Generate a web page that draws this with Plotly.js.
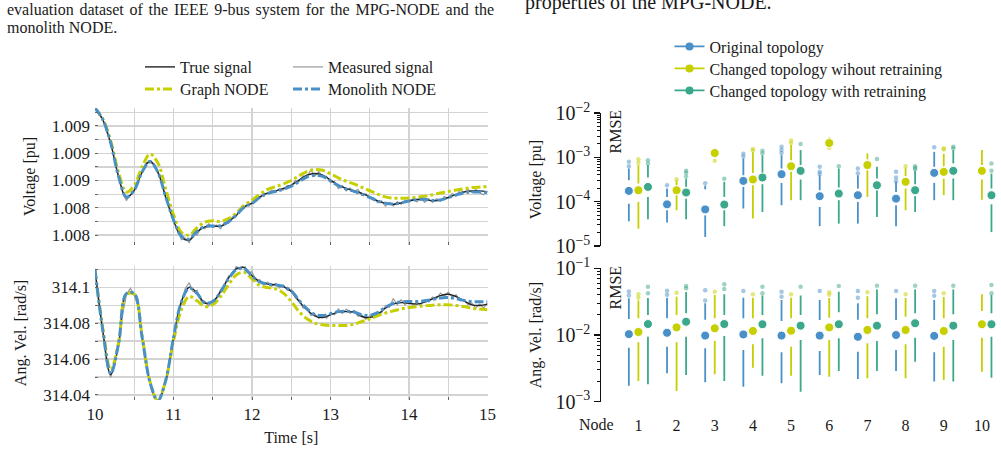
<!DOCTYPE html>
<html>
<head>
<meta charset="utf-8">
<script src="https://cdn.plot.ly/plotly-3.0.1.min.js"></script>
<style>
  html, body { margin: 0; padding: 0; background: #fff; }
  #wrap { position: relative; width: 1001px; height: 452px; overflow: hidden; }
  #chart { position: absolute; left: 0; top: 0; width: 1001px; height: 452px; }
  .cap { position: absolute; font-family: "Liberation Serif", serif; color: #1a1a1a; white-space: nowrap; }
  #capL1 { left: 7px; top: 1px; width: 487px; font-size: 16px; line-height: 18px; white-space: normal; text-align: justify; text-align-last: justify; }
  #capL2 { left: 7px; top: 19px; font-size: 16px; line-height: 18px; }
  #capR { left: 525px; top: -8px; font-size: 20px; line-height: 20px; }
</style>
</head>
<body>
<div id="wrap">
  <div id="chart"></div>
  <div class="cap" id="capL1">evaluation dataset of the IEEE 9-bus system for the MPG-NODE and the</div>
  <div class="cap" id="capL2">monolith NODE.</div>
  <div class="cap" id="capR">properties of the MPG-NODE.</div>
</div>
<script>
// ---------- Time series (left): samples start at t = 10 s ----------
// smooth signals sampled every 0.1 s, measured signal every 0.05 s
const voltTrue = [
  1.009132, 1.009044, 1.008873, 1.008627, 1.008473, 1.008529, 1.008664, 1.008743, 1.008664, 1.008480,
  1.008309, 1.008186, 1.008162, 1.008223, 1.008260, 1.008265, 1.008265, 1.008296, 1.008346, 1.008407,
  1.008434, 1.008480, 1.008510, 1.008524, 1.008542, 1.008566, 1.008603, 1.008640, 1.008652, 1.008640,
  1.008603, 1.008566, 1.008542, 1.008524, 1.008505, 1.008480, 1.008451, 1.008432, 1.008426, 1.008436,
  1.008451, 1.008461, 1.008461, 1.008451, 1.008456, 1.008476, 1.008498, 1.008517, 1.008524, 1.008524,
  1.008517];
const voltGraph = [
  1.009132, 1.009050, 1.008890, 1.008660, 1.008515, 1.008565, 1.008700, 1.008795, 1.008730, 1.008540,
  1.008350, 1.008220, 1.008200, 1.008255, 1.008295, 1.008305, 1.008300, 1.008320, 1.008360, 1.008420,
  1.008455, 1.008500, 1.008535, 1.008555, 1.008575, 1.008600, 1.008635, 1.008665, 1.008680, 1.008675,
  1.008650, 1.008620, 1.008595, 1.008575, 1.008550, 1.008525, 1.008500, 1.008480, 1.008470, 1.008470,
  1.008472, 1.008478, 1.008485, 1.008495, 1.008508, 1.008520, 1.008530, 1.008540, 1.008548, 1.008552,
  1.008555];
const voltMono = [
  1.009132, 1.009046, 1.008876, 1.008630, 1.008478, 1.008530, 1.008662, 1.008740, 1.008662, 1.008482,
  1.008312, 1.008192, 1.008170, 1.008228, 1.008262, 1.008266, 1.008268, 1.008298, 1.008346, 1.008405,
  1.008432, 1.008476, 1.008505, 1.008520, 1.008536, 1.008558, 1.008592, 1.008626, 1.008638, 1.008630,
  1.008598, 1.008562, 1.008538, 1.008520, 1.008500, 1.008476, 1.008450, 1.008434, 1.008428, 1.008436,
  1.008450, 1.008460, 1.008462, 1.008454, 1.008458, 1.008474, 1.008494, 1.008510, 1.008516, 1.008516,
  1.008512];
const voltMeas = [
  1.009130, 1.009087, 1.009054, 1.008953, 1.008879, 1.008740, 1.008639, 1.008515, 1.008453, 1.008498,
  1.008519, 1.008612, 1.008656, 1.008730, 1.008729, 1.008721, 1.008648, 1.008587, 1.008470, 1.008398,
  1.008297, 1.008250, 1.008166, 1.008179, 1.008144, 1.008215, 1.008198, 1.008255, 1.008246, 1.008283,
  1.008253, 1.008273, 1.008245, 1.008292, 1.008286, 1.008334, 1.008338, 1.008388, 1.008395, 1.008430,
  1.008428, 1.008468, 1.008468, 1.008505, 1.008502, 1.008529, 1.008514, 1.008541, 1.008530, 1.008564,
  1.008558, 1.008599, 1.008593, 1.008634, 1.008626, 1.008678, 1.008632, 1.008666, 1.008628, 1.008630,
  1.008583, 1.008595, 1.008541, 1.008562, 1.008524, 1.008545, 1.008516, 1.008535, 1.008490, 1.008503,
  1.008468, 1.008473, 1.008437, 1.008450, 1.008412, 1.008436, 1.008414, 1.008444, 1.008426, 1.008456,
  1.008443, 1.008466, 1.008443, 1.008473, 1.008439, 1.008466, 1.008439, 1.008466, 1.008446, 1.008482,
  1.008468, 1.008505, 1.008488, 1.008530, 1.008509, 1.008535, 1.008512, 1.008534, 1.008510, 1.008496,
  1.008523];

const avTrue = [
  314.1096, 314.0753, 314.0513, 314.0679, 314.0965, 314.0965, 314.0720, 314.0470, 314.0364, 314.0476,
  314.0717, 314.0920, 314.1000, 314.0967, 314.0911, 314.0920, 314.0976, 314.1050, 314.1102, 314.1109,
  314.1064, 314.1031, 314.1017, 314.1013, 314.1003, 314.0976, 314.0920, 314.0874, 314.0841, 314.0831,
  314.0846, 314.0861, 314.0864, 314.0861, 314.0837, 314.0831, 314.0850, 314.0883, 314.0907, 314.0914,
  314.0911, 314.0906, 314.0917, 314.0935, 314.0953, 314.0961, 314.0948, 314.0924, 314.0902, 314.0898,
  314.0906];
const avGraph = [
  314.1096, 314.0770, 314.0540, 314.0690, 314.0958, 314.0960, 314.0730, 314.0475, 314.0370, 314.0480,
  314.0700, 314.0874, 314.0948, 314.0924, 314.0892, 314.0902, 314.0948, 314.1013, 314.1068, 314.1083,
  314.1046, 314.1009, 314.0998, 314.0991, 314.0967, 314.0920, 314.0864, 314.0824, 314.0800, 314.0791,
  314.0787, 314.0787, 314.0787, 314.0794, 314.0809, 314.0824, 314.0841, 314.0856, 314.0868, 314.0879,
  314.0887, 314.0892, 314.0896, 314.0900, 314.0902, 314.0902, 314.0898, 314.0892, 314.0883, 314.0878,
  314.0874];
const avMono = [
  314.1096, 314.0758, 314.0518, 314.0685, 314.0964, 314.0964, 314.0722, 314.0472, 314.0368, 314.0480,
  314.0720, 314.0918, 314.0995, 314.0965, 314.0912, 314.0920, 314.0975, 314.1046, 314.1098, 314.1104,
  314.1062, 314.1030, 314.1017, 314.1013, 314.1004, 314.0980, 314.0926, 314.0880, 314.0848, 314.0842,
  314.0852, 314.0864, 314.0866, 314.0862, 314.0846, 314.0843, 314.0858, 314.0888, 314.0910, 314.0918,
  314.0920, 314.0920, 314.0924, 314.0932, 314.0940, 314.0942, 314.0936, 314.0926, 314.0920, 314.0919,
  314.0920];
const avMeas = [
  314.1102, 314.0940, 314.0761, 314.0568, 314.0498, 314.0580, 314.0671, 314.0842, 314.0958, 314.0993,
  314.0958, 314.0890, 314.0712, 314.0600, 314.0460, 314.0388, 314.0358, 314.0410, 314.0466, 314.0602,
  314.0709, 314.0844, 314.0908, 314.0993, 314.1025, 314.0975, 314.0983, 314.0923, 314.0921, 314.0895,
  314.0928, 314.0935, 314.0986, 314.1007, 314.1062, 314.1070, 314.1116, 314.1098, 314.1125, 314.1080,
  314.1086, 314.1033, 314.1041, 314.1014, 314.1029, 314.1005, 314.1021, 314.0996, 314.1013, 314.0982,
  314.0988, 314.0942, 314.0930, 314.0885, 314.0882, 314.0843, 314.0851, 314.0826, 314.0843, 314.0828,
  314.0856, 314.0847, 314.0879, 314.0853, 314.0878, 314.0854, 314.0871, 314.0838, 314.0845, 314.0822,
  314.0841, 314.0830, 314.0862, 314.0856, 314.0897, 314.0888, 314.0937, 314.0902, 314.0930, 314.0903,
  314.0923, 314.0900, 314.0916, 314.0900, 314.0929, 314.0918, 314.0945, 314.0934, 314.0967, 314.0950,
  314.0973, 314.0946, 314.0958, 314.0925, 314.0932, 314.0902, 314.0912, 314.0885, 314.0906, 314.0885,
  314.0912];

// ---------- RMSE per node (right): [min, q1, median, q3, max] ----------
const nodes = [1, 2, 3, 4, 5, 6, 7, 8, 9, 10];

const vOrig = [
  [3.6e-5, 9.0e-5, 1.75e-4, 3.05e-4, 5.6e-4],
  [3.4e-5, 6.4e-5, 8.7e-5, 1.28e-4, 1.98e-4],
  [1.6e-5, 4.9e-5, 6.7e-5, 1.9e-4, 2.3e-4],
  [7.0e-5, 2.15e-4, 2.94e-4, 3.95e-4, 9.5e-4],
  [8.3e-5, 2.65e-4, 4.17e-4, 5.6e-4, 1.12e-3],
  [2.8e-5, 7.6e-5, 1.33e-4, 1.81e-4, 3.95e-4],
  [3.2e-5, 9.9e-5, 1.40e-4, 1.98e-4, 3.95e-4],
  [2.8e-5, 8.3e-5, 1.17e-4, 1.66e-4, 2.8e-4],
  [1.08e-4, 2.65e-4, 4.46e-4, 6.1e-4, 1.33e-3],
  [null, null, null, null, null]];
const vOrigOut = [[6.3e-4, 7.9e-4], [2.35e-4], [2.6e-4], [1.05e-3, 1.2e-3], [1.26e-3, 1.46e-3, 1.73e-3],
  [4.2e-4, 4.7e-4, 6.1e-4], [4.4e-4, 5.6e-4], [2.9e-4, 3.5e-4, 4.7e-4], [1.68e-3], []];

const vChg = [
  [2.46e-5, 9.9e-5, 1.81e-4, 2.57e-4, 6.7e-4],
  [6.4e-5, 1.40e-4, 1.81e-4, 2.35e-4, 3.05e-4],
  [1.05e-3, 1.15e-3, 1.25e-3, 1.35e-3, 1.45e-3],
  [4.15e-5, 2.35e-4, 3.16e-4, 4.46e-4, 1.3e-3],
  [1.08e-4, 4.7e-4, 6.3e-4, 8.6e-4, 1.9e-3],
  [1.8e-3, 1.9e-3, 2.1e-3, 2.3e-3, 2.8e-3],
  [1.28e-4, 5.1e-4, 6.7e-4, 9.0e-4, 1.23e-3],
  [6.4e-5, 1.98e-4, 2.8e-4, 3.76e-4, 5.8e-4],
  [1.4e-4, 3.3e-4, 4.7e-4, 6.3e-4, 1.2e-3],
  [1.1e-4, 3.16e-4, 4.95e-4, 6.7e-4, 1.46e-3]];
const vChgOut = [[7.5e-4, 9.0e-4], [3.2e-4], [8.4e-4], [1.42e-3, 1.55e-3], [2.1e-3, 2.4e-3],
  [1.65e-3], [], [6.3e-4], [1.5e-3, 1.6e-3], []];

const vRet = [
  [4.0e-5, 1.28e-4, 2.15e-4, 3.5e-4, 6.7e-4],
  [4.0e-5, 1.17e-4, 1.61e-4, 2.15e-4, 3.3e-4],
  [2.8e-5, 6.4e-5, 8.6e-5, 1.28e-4, 2.8e-4],
  [5.85e-5, 2.48e-4, 3.5e-4, 4.3e-4, 1.12e-3],
  [1.08e-4, 3.16e-4, 4.95e-4, 6.7e-4, 1.46e-3],
  [3.2e-5, 1.08e-4, 1.52e-4, 2.09e-4, 5.6e-4],
  [4.5e-5, 1.81e-4, 2.35e-4, 3.33e-4, 6.1e-4],
  [5.85e-5, 1.33e-4, 1.81e-4, 2.48e-4, 5.0e-4],
  [1.08e-4, 3.33e-4, 4.95e-4, 7.3e-4, 1.46e-3],
  [2.06e-5, 8.7e-5, 1.40e-4, 1.98e-4, 4.3e-4]];
const vRetOut = [[7.3e-4, 8.6e-4], [3.7e-4, 4.5e-4, 5.0e-4], [3.3e-4], [1.23e-3, 1.4e-3], [2.0e-3],
  [6.3e-4], [9.2e-4], [5.4e-4, 5.8e-4, 6.3e-4], [1.6e-3, 1.73e-3], [5.0e-4, 7.3e-4]];

const aOrig = [
  [1.74e-3, 6.46e-3, 1.03e-2, 1.74e-2, 3.55e-2],
  [2.67e-3, 6.68e-3, 1.08e-2, 1.78e-2, 3.62e-2],
  [1.95e-3, 6.32e-3, 9.8e-3, 1.7e-2, 3.0e-2],
  [1.68e-3, 5.96e-3, 1.02e-2, 1.78e-2, 3.62e-2],
  [1.89e-3, 5.51e-3, 9.8e-3, 1.62e-2, 3.35e-2],
  [2.51e-3, 5.75e-3, 9.8e-3, 1.68e-2, 3.35e-2],
  [2.19e-3, 5.62e-3, 9.4e-3, 1.7e-2, 2.99e-2],
  [2.89e-3, 5.96e-3, 1.0e-2, 1.68e-2, 3.55e-2],
  [2.0e-3, 5.51e-3, 9.7e-3, 1.68e-2, 3.35e-2],
  [null, null, null, null, null]];
const aOrigOut = [[3.9e-2, 4.5e-2], [4.0e-2, 4.6e-2], [3.3e-2, 4.7e-2], [4.57e-2], [3.75e-2, 4.46e-2],
  [4.57e-2], [3.62e-2, 4.57e-2], [4.57e-2], [3.88e-2, 4.57e-2], []];

const aChg = [
  [2.04e-3, 7.78e-3, 1.11e-2, 1.78e-2, 3.3e-2],
  [1.45e-3, 7.78e-3, 1.30e-2, 1.99e-2, 3.75e-2],
  [2.58e-3, 8.13e-3, 1.26e-2, 1.78e-2, 3.98e-2],
  [3.24e-3, 7.26e-3, 1.15e-2, 1.78e-2, 3.62e-2],
  [2.45e-3, 6.68e-3, 1.16e-2, 1.78e-2, 3.62e-2],
  [2.37e-3, 8.41e-3, 1.30e-2, 1.82e-2, 3.6e-2],
  [2.24e-3, 7.51e-3, 1.19e-2, 1.78e-2, 3.8e-2],
  [2.24e-3, 7.26e-3, 1.19e-2, 1.88e-2, 3.6e-2],
  [2.11e-3, 6.68e-3, 1.15e-2, 1.78e-2, 3.7e-2],
  [2.82e-3, 9.12e-3, 1.45e-2, 2.29e-2, 4.07e-2]];
const aChgOut = [[3.62e-2, 4.07e-2], [4.3e-2], [4.46e-2], [4.07e-2], [4.07e-2],
  [4.0e-2, 4.36e-2], [4.36e-2], [4.07e-2], [4.22e-2], []];

const aRet = [
  [1.82e-3, 9.44e-3, 1.46e-2, 1.99e-2, 3.6e-2],
  [2.51e-3, 9.44e-3, 1.58e-2, 2.11e-2, 4.4e-2],
  [2.04e-3, 9.66e-3, 1.46e-2, 1.99e-2, 4.1e-2],
  [2.45e-3, 8.91e-3, 1.45e-2, 1.99e-2, 3.9e-2],
  [1.41e-3, 8.41e-3, 1.38e-2, 1.99e-2, 3.9e-2],
  [2.89e-3, 8.91e-3, 1.45e-2, 2.19e-2, 4.46e-2],
  [2.89e-3, 8.13e-3, 1.38e-2, 2.04e-2, 4.8e-2],
  [3.98e-3, 9.12e-3, 1.50e-2, 2.11e-2, 4.8e-2],
  [2.0e-3, 8.41e-3, 1.38e-2, 2.04e-2, 4.8e-2],
  [2.29e-3, 9.44e-3, 1.45e-2, 2.11e-2, 3.98e-2]];
const aRetOut = [[4.22e-2, 5.3e-2], [5.01e-2, 5.43e-2], [4.9e-2, 5.75e-2], [4.22e-2, 5.3e-2], [5.3e-2],
  [5.43e-2], [5.48e-2], [5.48e-2], [5.48e-2], [4.22e-2, 5.62e-2]];

// ---------- styling ----------
const SERIF = 'Liberation Serif, serif';
const INK = '#1a1a1a';
const C_BLUE = '#4a90c8';
const C_YEL = '#c6cf00';
const C_TEAL = '#3ba88c';
const GRID = '#d3d3d3';

const traces = [];

function tsTrace(y, dt, xa, ya, name, line, legend, show) {
  return {
    type: 'scatter', mode: 'lines', x0: 10, dx: dt, y: y,
    xaxis: xa, yaxis: ya, name: name, line: line,
    legend: legend, showlegend: show, hoverinfo: 'skip'
  };
}
const lnMeas = { color: '#999999', width: 1.2 };
const lnTrue = { color: '#222', width: 1.4, shape: 'spline' };
const lnGraph = { color: C_YEL, width: 3, dash: 'dashdot', shape: 'spline' };
const lnMono = { color: C_BLUE, width: 3, dash: 'dashdot', shape: 'spline' };

traces.push(tsTrace(voltMeas, 0.05, 'x', 'y', 'Measured signal', lnMeas, 'legend2', true));
traces.push(tsTrace(voltTrue, 0.1, 'x', 'y', 'True signal', lnTrue, 'legend', true));
traces.push(tsTrace(voltGraph, 0.1, 'x', 'y', 'Graph NODE', lnGraph, 'legend3', true));
traces.push(tsTrace(voltMono, 0.1, 'x', 'y', 'Monolith NODE', lnMono, 'legend4', true));
traces.push(tsTrace(avMeas, 0.05, 'x2', 'y2', 'Measured signal', lnMeas, 'legend2', false));
traces.push(tsTrace(avTrue, 0.1, 'x2', 'y2', 'True signal', lnTrue, 'legend', false));
traces.push(tsTrace(avGraph, 0.1, 'x2', 'y2', 'Graph NODE', lnGraph, 'legend3', false));
traces.push(tsTrace(avMono, 0.1, 'x2', 'y2', 'Monolith NODE', lnMono, 'legend4', false));

// midgap box plots: whisker from min to q1, dot at median, whisker from q3 to max
const series = [
  { name: 'Original topology', color: C_BLUE, off: -0.25, v: vOrig, vOut: vOrigOut, a: aOrig, aOut: aOrigOut, legend: 'legend5' },
  { name: 'Changed topology wihout retraining', color: C_YEL, off: 0, v: vChg, vOut: vChgOut, a: aChg, aOut: aChgOut, legend: 'legend6' },
  { name: 'Changed topology with retraining', color: C_TEAL, off: 0.25, v: vRet, vOut: vRetOut, a: aRet, aOut: aRetOut, legend: 'legend7' }
];

function addBoxes(s, stats, outs, xa, ya) {
  const wx = [], wy = [], mx = [], my = [], ox = [], oy = [];
  nodes.forEach((n, i) => {
    const st = stats[i];
    if (st[2] === null) return;
    const xp = n + s.off;
    wx.push(xp, xp, null, xp, xp, null);
    wy.push(st[0], st[1], null, st[3], st[4], null);
    mx.push(xp); my.push(st[2]);
    outs[i].forEach(v => { ox.push(xp); oy.push(v); });
  });
  traces.push({ type: 'scatter', mode: 'lines', x: wx, y: wy, xaxis: xa, yaxis: ya,
    line: { color: s.color, width: 1.8 }, connectgaps: false, showlegend: false, hoverinfo: 'skip' });
  traces.push({ type: 'scatter', mode: 'markers', x: ox, y: oy, xaxis: xa, yaxis: ya,
    marker: { color: s.color, size: 4.5, opacity: 0.5 }, showlegend: false, hoverinfo: 'skip' });
  traces.push({ type: 'scatter', mode: 'markers', x: mx, y: my, xaxis: xa, yaxis: ya,
    marker: { color: s.color, size: 9, line: { color: '#fff', width: 1 } }, showlegend: false, hoverinfo: 'skip' });
}
series.forEach(s => {
  addBoxes(s, s.v, s.vOut, 'x3', 'y3');
  addBoxes(s, s.a, s.aOut, 'x4', 'y4');
  traces.push({ type: 'scatter', mode: 'lines+markers', x: [null], y: [null], xaxis: 'x3', yaxis: 'y3',
    name: s.name, legend: s.legend, showlegend: true,
    line: { color: s.color, width: 1.7 }, marker: { color: s.color, size: 8 }, hoverinfo: 'skip' });
});

// ---------- layout (pixel helpers for paper coordinates) ----------
const W = 1001, H = 452;
const px = x => x / W;
const py = y => 1 - y / H;

const tsTick = () => ({ family: SERIF, size: 17, color: INK });
const lab = () => ({ family: SERIF, size: 16, color: INK });

const gridX = () => ({
  range: [10, 15], dtick: 1, tick0: 10, ticks: 'inside', ticklen: 3, tickcolor: '#666',
  showgrid: true, gridcolor: GRID, gridwidth: 1.3, zeroline: false, showline: false,
  minor: { dtick: 0.5, showgrid: true, gridcolor: GRID, gridwidth: 1.3, ticks: 'inside', ticklen: 3, tickcolor: '#666' },
  tickfont: tsTick(), fixedrange: true
});

function legendAt(x, y) {
  return { x: px(x), y: py(y), xanchor: 'left', yanchor: 'middle', orientation: 'v',
    bgcolor: 'rgba(0,0,0,0)', borderwidth: 0, font: lab() };
}

const logY = () => ({
  type: 'log', dtick: 1, exponentformat: 'power', showexponent: 'all',
  showline: true, linecolor: '#111', linewidth: 1.5, mirror: false,
  ticks: 'outside', ticklen: 6, tickwidth: 1.3, tickcolor: '#111',
  minor: { dtick: 'D1', ticks: 'outside', ticklen: 3, tickwidth: 1, tickcolor: '#111', showgrid: false },
  showgrid: false, zeroline: false, tickfont: { family: SERIF, size: 16, color: INK }, fixedrange: true
});

const layout = {
  width: W, height: H,
  margin: { l: 0, r: 0, t: 0, b: 0 },
  paper_bgcolor: '#fff', plot_bgcolor: 'rgba(0,0,0,0)',
  font: { family: SERIF, color: INK },
  xaxis: Object.assign(gridX(), { domain: [px(95), px(487.5)], anchor: 'y', showticklabels: false }),
  yaxis: {
    domain: [py(245), py(108)], anchor: 'x', range: [1.008127, 1.009132],
    dtick: 0.0002, tick0: 1.0082, tickformat: '.3f',
    ticks: 'inside', ticklen: 3, tickcolor: '#666', ticklabelstandoff: 4,
    showgrid: true, gridcolor: GRID, gridwidth: 1.3, zeroline: false, showline: false,
    minor: { dtick: 0.0001, tick0: 1.0082, showgrid: true, gridcolor: GRID, gridwidth: 1.3, ticks: 'inside', ticklen: 3, tickcolor: '#666' },
    tickfont: tsTick(), title: { text: 'Voltage [pu]', font: lab(), standoff: 12 }, fixedrange: true
  },
  xaxis2: Object.assign(gridX(), {
    domain: [px(95), px(487.5)], anchor: 'y2', showticklabels: true, ticklabelstandoff: 2,
    title: { text: 'Time [s]', font: lab(), standoff: 8 }
  }),
  yaxis2: {
    domain: [py(400), py(266)], anchor: 'x2', range: [314.0372, 314.1118],
    dtick: 0.02, tick0: 314.04,
    ticks: 'inside', ticklen: 3, tickcolor: '#666', ticklabelstandoff: 4,
    showgrid: true, gridcolor: GRID, gridwidth: 1.3, zeroline: false, showline: false,
    minor: { dtick: 0.01, tick0: 314.04, showgrid: true, gridcolor: GRID, gridwidth: 1.3, ticks: 'inside', ticklen: 3, tickcolor: '#666' },
    tickfont: tsTick(), title: { text: 'Ang. Vel. [rad/s]', font: lab(), standoff: 12 }, fixedrange: true
  },
  xaxis3: { domain: [px(601), 1], anchor: 'y3', range: [0.02, 10.5], visible: false, fixedrange: true },
  yaxis3: Object.assign(logY(), {
    domain: [py(246), py(113)], anchor: 'x3', range: [-5, -2],
    title: { text: 'Voltage [pu]', font: lab(), standoff: 10 }
  }),
  xaxis4: {
    domain: [px(601), 1], anchor: 'y4', range: [0.02, 10.5],
    tickvals: nodes, ticktext: nodes.map(String), ticks: '', ticklabelstandoff: 12,
    showline: false, showgrid: false, zeroline: false, tickfont: lab(), fixedrange: true
  },
  yaxis4: Object.assign(logY(), {
    domain: [py(401.7), py(268.3)], anchor: 'x4', range: [-3, -1],
    title: { text: 'Ang. Vel. [rad/s]', font: lab(), standoff: 10 }
  }),
  legend: legendAt(140, 67),
  legend2: legendAt(288, 67),
  legend3: legendAt(140, 89),
  legend4: legendAt(288, 89),
  legend5: legendAt(669.5, 46.5),
  legend6: legendAt(669.5, 68.5),
  legend7: legendAt(669.5, 90.5),
  annotations: [
    { text: 'RMSE', xref: 'paper', yref: 'paper', x: px(615), y: py(131.5), textangle: -90,
      showarrow: false, font: lab(), xanchor: 'center', yanchor: 'middle' },
    { text: 'RMSE', xref: 'paper', yref: 'paper', x: px(615), y: py(287.5), textangle: -90,
      showarrow: false, font: lab(), xanchor: 'center', yanchor: 'middle' },
    { text: 'Node', xref: 'paper', yref: 'paper', x: px(596.5), y: py(424), showarrow: false,
      font: lab(), xanchor: 'center', yanchor: 'middle' }
  ]
};

Plotly.newPlot('chart', traces, layout, { staticPlot: true, displayModeBar: false });
</script>
</body>
</html>
